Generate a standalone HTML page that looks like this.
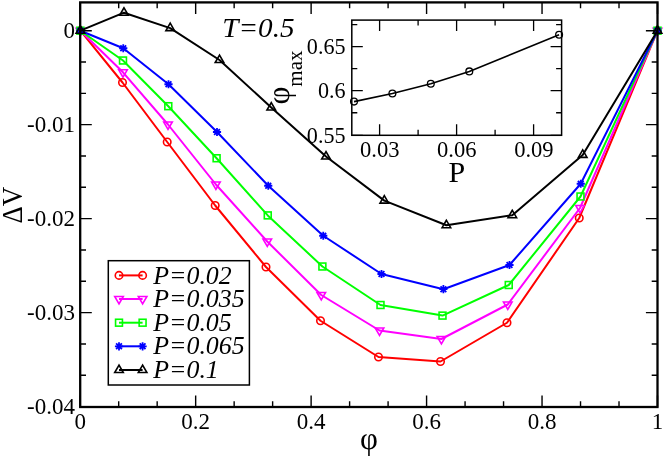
<!DOCTYPE html>
<html><head><meta charset="utf-8"><title>chart</title>
<style>html,body{margin:0;padding:0;background:#fff}body{width:664px;height:457px;overflow:hidden;font-family:"Liberation Serif",serif}</style>
</head><body>
<svg width="664" height="457" viewBox="0 0 664 457" style="display:block;will-change:transform;font-family:'Liberation Serif',serif">
<rect width="664" height="457" fill="#fff"/>
<polyline points="80.4,30.7 122.5,82.5 167.2,142 215.2,205.5 266,267 320.5,320.75 378.5,357 440.5,361.5 507,322.75 579.25,218 657.5,30.7" fill="none" stroke="#ff0000" stroke-width="2.0" stroke-linejoin="round"/>
<circle cx="80.4" cy="30.7" r="3.74" fill="none" stroke="#ff0000" stroke-width="1.6"/>
<circle cx="122.5" cy="82.5" r="3.74" fill="none" stroke="#ff0000" stroke-width="1.6"/>
<circle cx="167.2" cy="142" r="3.74" fill="none" stroke="#ff0000" stroke-width="1.6"/>
<circle cx="215.2" cy="205.5" r="3.74" fill="none" stroke="#ff0000" stroke-width="1.6"/>
<circle cx="266" cy="267" r="3.74" fill="none" stroke="#ff0000" stroke-width="1.6"/>
<circle cx="320.5" cy="320.75" r="3.74" fill="none" stroke="#ff0000" stroke-width="1.6"/>
<circle cx="378.5" cy="357" r="3.74" fill="none" stroke="#ff0000" stroke-width="1.6"/>
<circle cx="440.5" cy="361.5" r="3.74" fill="none" stroke="#ff0000" stroke-width="1.6"/>
<circle cx="507" cy="322.75" r="3.74" fill="none" stroke="#ff0000" stroke-width="1.6"/>
<circle cx="579.25" cy="218" r="3.74" fill="none" stroke="#ff0000" stroke-width="1.6"/>
<circle cx="657.5" cy="30.7" r="3.74" fill="none" stroke="#ff0000" stroke-width="1.6"/>
<polyline points="80.4,30.7 123,72.3 168,124.5 215.9,184.5 267.25,241.5 321.25,295 379.5,330.5 441.4,339 507.75,304.5 580,208 657.5,30.7" fill="none" stroke="#ff00ff" stroke-width="2.0" stroke-linejoin="round"/>
<polygon points="80.4,35.67 76.10000000000001,28.22 84.7,28.22" fill="none" stroke="#ff00ff" stroke-width="1.6"/>
<polygon points="123,77.27 118.7,69.82 127.3,69.82" fill="none" stroke="#ff00ff" stroke-width="1.6"/>
<polygon points="168,129.47 163.7,122.02 172.3,122.02" fill="none" stroke="#ff00ff" stroke-width="1.6"/>
<polygon points="215.9,189.47 211.6,182.02 220.20000000000002,182.02" fill="none" stroke="#ff00ff" stroke-width="1.6"/>
<polygon points="267.25,246.47 262.95,239.02 271.55,239.02" fill="none" stroke="#ff00ff" stroke-width="1.6"/>
<polygon points="321.25,299.97 316.95,292.52 325.55,292.52" fill="none" stroke="#ff00ff" stroke-width="1.6"/>
<polygon points="379.5,335.47 375.2,328.02 383.8,328.02" fill="none" stroke="#ff00ff" stroke-width="1.6"/>
<polygon points="441.4,343.97 437.09999999999997,336.52 445.7,336.52" fill="none" stroke="#ff00ff" stroke-width="1.6"/>
<polygon points="507.75,309.47 503.45,302.02 512.05,302.02" fill="none" stroke="#ff00ff" stroke-width="1.6"/>
<polygon points="580,212.97 575.7,205.52 584.3,205.52" fill="none" stroke="#ff00ff" stroke-width="1.6"/>
<polygon points="657.5,35.67 653.2,28.22 661.8,28.22" fill="none" stroke="#ff00ff" stroke-width="1.6"/>
<polyline points="80.4,30.7 123,60.5 168.3,106.2 216.6,158.25 267.75,215.4 322.4,266.5 380.5,305 442.5,315.6 508.75,285 580.5,196.5 657.5,30.7" fill="none" stroke="#00ff00" stroke-width="2.0" stroke-linejoin="round"/>
<rect x="76.96000000000001" y="27.259999999999998" width="6.88" height="6.88" fill="none" stroke="#00ff00" stroke-width="1.6"/>
<rect x="119.56" y="57.06" width="6.88" height="6.88" fill="none" stroke="#00ff00" stroke-width="1.6"/>
<rect x="164.86" y="102.76" width="6.88" height="6.88" fill="none" stroke="#00ff00" stroke-width="1.6"/>
<rect x="213.16" y="154.81" width="6.88" height="6.88" fill="none" stroke="#00ff00" stroke-width="1.6"/>
<rect x="264.31" y="211.96" width="6.88" height="6.88" fill="none" stroke="#00ff00" stroke-width="1.6"/>
<rect x="318.96" y="263.06" width="6.88" height="6.88" fill="none" stroke="#00ff00" stroke-width="1.6"/>
<rect x="377.06" y="301.56" width="6.88" height="6.88" fill="none" stroke="#00ff00" stroke-width="1.6"/>
<rect x="439.06" y="312.16" width="6.88" height="6.88" fill="none" stroke="#00ff00" stroke-width="1.6"/>
<rect x="505.31" y="281.56" width="6.88" height="6.88" fill="none" stroke="#00ff00" stroke-width="1.6"/>
<rect x="577.06" y="193.06" width="6.88" height="6.88" fill="none" stroke="#00ff00" stroke-width="1.6"/>
<rect x="654.06" y="27.259999999999998" width="6.88" height="6.88" fill="none" stroke="#00ff00" stroke-width="1.6"/>
<polyline points="80.4,30.7 123.25,48.25 168.5,84.25 217,132 268.25,185.75 323.25,235.75 381.5,274 443.4,289.2 509.5,265 580.75,183.75 657.5,30.7" fill="none" stroke="#0000ff" stroke-width="2.0" stroke-linejoin="round"/>
<path d="M76.31500000000001,30.7H84.485M80.4,26.615V34.785M77.51,27.81L83.29,33.59M77.51,33.59L83.29,27.81" fill="none" stroke="#0000ff" stroke-width="1.8"/>
<path d="M119.165,48.25H127.335M123.25,44.165V52.335M120.36,45.36L126.14,51.14M120.36,51.14L126.14,45.36" fill="none" stroke="#0000ff" stroke-width="1.8"/>
<path d="M164.415,84.25H172.585M168.5,80.165V88.335M165.61,81.36L171.39,87.14M165.61,87.14L171.39,81.36" fill="none" stroke="#0000ff" stroke-width="1.8"/>
<path d="M212.915,132H221.085M217,127.915V136.085M214.11,129.11L219.89,134.89M214.11,134.89L219.89,129.11" fill="none" stroke="#0000ff" stroke-width="1.8"/>
<path d="M264.165,185.75H272.335M268.25,181.665V189.835M265.36,182.86L271.14,188.64M265.36,188.64L271.14,182.86" fill="none" stroke="#0000ff" stroke-width="1.8"/>
<path d="M319.165,235.75H327.335M323.25,231.665V239.835M320.36,232.86L326.14,238.64M320.36,238.64L326.14,232.86" fill="none" stroke="#0000ff" stroke-width="1.8"/>
<path d="M377.415,274H385.585M381.5,269.915V278.085M378.61,271.11L384.39,276.89M378.61,276.89L384.39,271.11" fill="none" stroke="#0000ff" stroke-width="1.8"/>
<path d="M439.315,289.2H447.48499999999996M443.4,285.115V293.28499999999997M440.51,286.31L446.29,292.09M440.51,292.09L446.29,286.31" fill="none" stroke="#0000ff" stroke-width="1.8"/>
<path d="M505.415,265H513.585M509.5,260.915V269.085M506.61,262.11L512.39,267.89M506.61,267.89L512.39,262.11" fill="none" stroke="#0000ff" stroke-width="1.8"/>
<path d="M576.665,183.75H584.835M580.75,179.665V187.835M577.86,180.86L583.64,186.64M577.86,186.64L583.64,180.86" fill="none" stroke="#0000ff" stroke-width="1.8"/>
<path d="M653.415,30.7H661.585M657.5,26.615V34.785M654.61,27.81L660.39,33.59M654.61,33.59L660.39,27.81" fill="none" stroke="#0000ff" stroke-width="1.8"/>
<polyline points="80.4,30.7 124.0,12.7 170.2,28.1 219.5,60 271.25,107.5 326,156.5 384.3,200.6 446.4,225.2 512.3,215.2 582.7,154.9 657.5,30.7" fill="none" stroke="#000000" stroke-width="2.0" stroke-linejoin="round"/>
<polygon points="80.4,25.73 76.10000000000001,33.18 84.7,33.18" fill="none" stroke="#000000" stroke-width="1.6"/>
<polygon points="124.0,7.73 119.7,15.18 128.3,15.18" fill="none" stroke="#000000" stroke-width="1.6"/>
<polygon points="170.2,23.13 165.89999999999998,30.58 174.5,30.58" fill="none" stroke="#000000" stroke-width="1.6"/>
<polygon points="219.5,55.03 215.2,62.48 223.8,62.48" fill="none" stroke="#000000" stroke-width="1.6"/>
<polygon points="271.25,102.53 266.95,109.98 275.55,109.98" fill="none" stroke="#000000" stroke-width="1.6"/>
<polygon points="326,151.53 321.7,158.98 330.3,158.98" fill="none" stroke="#000000" stroke-width="1.6"/>
<polygon points="384.3,195.63 380.0,203.08 388.6,203.08" fill="none" stroke="#000000" stroke-width="1.6"/>
<polygon points="446.4,220.23 442.09999999999997,227.68 450.7,227.68" fill="none" stroke="#000000" stroke-width="1.6"/>
<polygon points="512.3,210.23 507.99999999999994,217.68 516.5999999999999,217.68" fill="none" stroke="#000000" stroke-width="1.6"/>
<polygon points="582.7,149.93 578.4000000000001,157.38 587.0,157.38" fill="none" stroke="#000000" stroke-width="1.6"/>
<polygon points="657.5,25.73 653.2,33.18 661.8,33.18" fill="none" stroke="#000000" stroke-width="1.6"/>
<path d="M80.20,407.0v-11.6M80.20,2.4v11.6M118.69,407.0v-5.8M118.69,2.4v5.8M157.17,407.0v-5.8M157.17,2.4v5.8M195.66,407.0v-11.6M195.66,2.4v11.6M234.15,407.0v-5.8M234.15,2.4v5.8M272.63,407.0v-5.8M272.63,2.4v5.8M311.12,407.0v-11.6M311.12,2.4v11.6M349.61,407.0v-5.8M349.61,2.4v5.8M388.09,407.0v-5.8M388.09,2.4v5.8M426.58,407.0v-11.6M426.58,2.4v11.6M465.07,407.0v-5.8M465.07,2.4v5.8M503.55,407.0v-5.8M503.55,2.4v5.8M542.04,407.0v-11.6M542.04,2.4v11.6M580.53,407.0v-5.8M580.53,2.4v5.8M619.01,407.0v-5.8M619.01,2.4v5.8M657.50,407.0v-11.6M657.50,2.4v11.6M80.2,406.60h11.6M657.5,406.60h-11.6M80.2,375.27h5.8M657.5,375.27h-5.8M80.2,343.95h5.8M657.5,343.95h-5.8M80.2,312.62h11.6M657.5,312.62h-11.6M80.2,281.30h5.8M657.5,281.30h-5.8M80.2,249.97h5.8M657.5,249.97h-5.8M80.2,218.65h11.6M657.5,218.65h-11.6M80.2,187.32h5.8M657.5,187.32h-5.8M80.2,156.00h5.8M657.5,156.00h-5.8M80.2,124.67h11.6M657.5,124.67h-11.6M80.2,93.35h5.8M657.5,93.35h-5.8M80.2,62.02h5.8M657.5,62.02h-5.8M80.2,30.70h11.6M657.5,30.70h-11.6" stroke="#000" stroke-width="1.4" fill="none"/>
<rect x="80.2" y="2.4" width="577.3" height="404.6" fill="none" stroke="#000" stroke-width="2.3"/>
<text x="75" y="38.30" font-size="23" text-anchor="end">0</text>
<text x="75" y="132.28" font-size="23" text-anchor="end">-0.01</text>
<text x="75" y="226.25" font-size="23" text-anchor="end">-0.02</text>
<text x="75" y="320.22" font-size="23" text-anchor="end">-0.03</text>
<text x="75" y="414.20" font-size="23" text-anchor="end">-0.04</text>
<text x="80.20" y="428.5" font-size="23" text-anchor="middle">0</text>
<text x="195.66" y="428.5" font-size="23" text-anchor="middle">0.2</text>
<text x="311.12" y="428.5" font-size="23" text-anchor="middle">0.4</text>
<text x="426.58" y="428.5" font-size="23" text-anchor="middle">0.6</text>
<text x="542.04" y="428.5" font-size="23" text-anchor="middle">0.8</text>
<text x="657.50" y="428.5" font-size="23" text-anchor="middle">1</text>
<text x="369" y="449.4" font-size="31" text-anchor="middle">φ</text>
<text transform="translate(22.2,205.2) rotate(-90) scale(0.93,1)" font-size="29" text-anchor="middle">ΔV</text>
<text transform="translate(222.2,36.8) scale(1.06,1)" font-size="27.5" font-style="italic">T=0.5</text>
<rect x="108.3" y="260.7" width="141.1" height="124.3" fill="#fff" stroke="#000" stroke-width="1.5"/>
<path d="M119,275.4H142.6" stroke="#ff0000" stroke-width="2.0"/>
<circle cx="119" cy="275.4" r="3.74" fill="none" stroke="#ff0000" stroke-width="1.6"/>
<circle cx="142.6" cy="275.4" r="3.74" fill="none" stroke="#ff0000" stroke-width="1.6"/>
<text transform="translate(153.2,283.50) scale(1.035,1)" font-size="25" font-style="italic">P=0.02</text>
<path d="M119,299H142.6" stroke="#ff00ff" stroke-width="2.0"/>
<polygon points="119,303.97 114.7,296.52 123.3,296.52" fill="none" stroke="#ff00ff" stroke-width="1.6"/>
<polygon points="142.6,303.97 138.29999999999998,296.52 146.9,296.52" fill="none" stroke="#ff00ff" stroke-width="1.6"/>
<text transform="translate(153.2,307.10) scale(1.035,1)" font-size="25" font-style="italic">P=0.035</text>
<path d="M119,322.7H142.6" stroke="#00ff00" stroke-width="2.0"/>
<rect x="115.56" y="319.26" width="6.88" height="6.88" fill="none" stroke="#00ff00" stroke-width="1.6"/>
<rect x="139.16" y="319.26" width="6.88" height="6.88" fill="none" stroke="#00ff00" stroke-width="1.6"/>
<text transform="translate(153.2,330.80) scale(1.035,1)" font-size="25" font-style="italic">P=0.05</text>
<path d="M119,346.3H142.6" stroke="#0000ff" stroke-width="2.0"/>
<path d="M114.915,346.3H123.085M119,342.21500000000003V350.385M116.11,343.41L121.89,349.19M116.11,349.19L121.89,343.41" fill="none" stroke="#0000ff" stroke-width="1.8"/>
<path d="M138.515,346.3H146.685M142.6,342.21500000000003V350.385M139.71,343.41L145.49,349.19M139.71,349.19L145.49,343.41" fill="none" stroke="#0000ff" stroke-width="1.8"/>
<text transform="translate(153.2,354.40) scale(1.035,1)" font-size="25" font-style="italic">P=0.065</text>
<path d="M119,370H142.6" stroke="#000000" stroke-width="2.0"/>
<polygon points="119,365.03 114.7,372.48 123.3,372.48" fill="none" stroke="#000000" stroke-width="1.6"/>
<polygon points="142.6,365.03 138.29999999999998,372.48 146.9,372.48" fill="none" stroke="#000000" stroke-width="1.6"/>
<text transform="translate(153.2,378.10) scale(1.035,1)" font-size="25" font-style="italic">P=0.1</text>
<rect x="351.8" y="20.1" width="209.8" height="115.20000000000002" fill="#fff" stroke="#000" stroke-width="1.5"/>
<polyline points="354.0,101.6 392.4,93.5 430.8,83.7 469.3,71.4 559.1,34.8" fill="none" stroke="#000" stroke-width="1.6"/>
<circle cx="354.0" cy="101.6" r="3.4" fill="none" stroke="#000" stroke-width="1.3"/>
<circle cx="392.4" cy="93.5" r="3.4" fill="none" stroke="#000" stroke-width="1.3"/>
<circle cx="430.8" cy="83.7" r="3.4" fill="none" stroke="#000" stroke-width="1.3"/>
<circle cx="469.3" cy="71.4" r="3.4" fill="none" stroke="#000" stroke-width="1.3"/>
<circle cx="559.1" cy="34.8" r="3.4" fill="none" stroke="#000" stroke-width="1.3"/>
<path d="M379.60,135.3v-11M379.60,20.1v11M418.10,135.3v-5.5M418.10,20.1v5.5M456.60,135.3v-11M456.60,20.1v11M495.10,135.3v-5.5M495.10,20.1v5.5M533.60,135.3v-11M533.60,20.1v11M351.8,112.75h5.5M561.6,112.75h-5.5M351.8,90.70h11M561.6,90.70h-11M351.8,68.65h5.5M561.6,68.65h-5.5M351.8,46.60h11M561.6,46.60h-11M351.8,24.55h5.5M561.6,24.55h-5.5M351.8,135.3h11M561.6,135.3h-11" stroke="#000" stroke-width="1.3" fill="none"/>
<text transform="translate(345.6,54.20) scale(0.95,1)" font-size="23.3" text-anchor="end">0.65</text>
<text transform="translate(345.6,98.30) scale(0.95,1)" font-size="23.3" text-anchor="end">0.6</text>
<text transform="translate(345.6,142.70) scale(0.95,1)" font-size="23.3" text-anchor="end">0.55</text>
<text transform="translate(379.8,157.2) scale(0.96,1)" font-size="23.5" text-anchor="middle">0.03</text>
<text transform="translate(456.8,157.2) scale(0.96,1)" font-size="23.5" text-anchor="middle">0.06</text>
<text transform="translate(533.9,157.2) scale(0.96,1)" font-size="23.5" text-anchor="middle">0.09</text>
<text x="456.8" y="182" font-size="30" text-anchor="middle">P</text>
<text transform="translate(288.8,104.6) rotate(-90)" font-size="31">φ<tspan font-size="21" dy="13.3">max</tspan></text>
</svg>
</body></html>
